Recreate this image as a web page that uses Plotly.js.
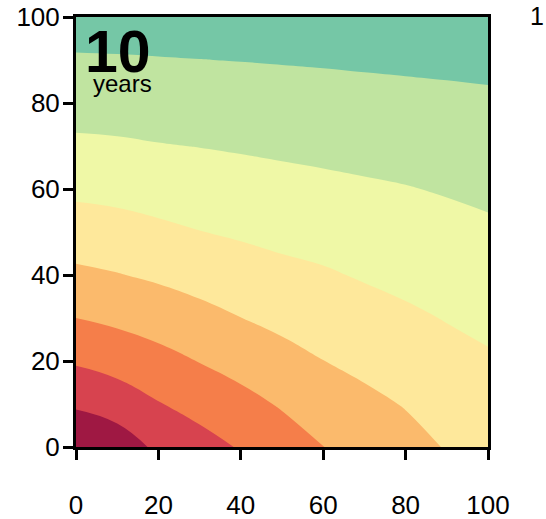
<!DOCTYPE html>
<html>
<head>
<meta charset="utf-8">
<script src="https://cdn.plot.ly/plotly-3.0.1.min.js"></script>
<style>
  html, body { margin: 0; padding: 0; background: #ffffff; }
  #chart { width: 546px; height: 519px; }
</style>
</head>
<body>
<div id="chart"></div>
<script>
// Grid coordinates (percent scale on both axes)
const xGrid = [0, 10, 20, 30, 40, 50, 60, 70, 80, 90, 100];
const yGrid = [0, 10, 20, 30, 40, 50, 60, 70, 80, 90, 100];

// Field values on the grid: one row per y, one column per x
const zRow0   = [0.09, 0.44, 1.20, 1.62, 2.08, 2.53, 2.99, 3.35, 3.70, 4.05, 4.37];
const zRow10  = [1.13, 1.46, 1.95, 2.35, 2.70, 3.09, 3.50, 3.79, 4.05, 4.38, 4.64];
const zRow20  = [2.11, 2.38, 2.70, 3.03, 3.35, 3.68, 3.99, 4.22, 4.45, 4.71, 4.90];
const zRow30  = [3.00, 3.20, 3.43, 3.71, 3.99, 4.24, 4.45, 4.65, 4.85, 5.04, 5.20];
const zRow40  = [3.81, 3.96, 4.15, 4.36, 4.56, 4.76, 4.90, 5.08, 5.23, 5.38, 5.53];
const zRow50  = [4.53, 4.64, 4.81, 4.98, 5.12, 5.25, 5.35, 5.48, 5.60, 5.72, 5.85];
const zRow60  = [5.20, 5.28, 5.40, 5.51, 5.61, 5.71, 5.79, 5.88, 5.96, 6.07, 6.18];
const zRow70  = [5.83, 5.88, 5.96, 6.02, 6.09, 6.16, 6.23, 6.29, 6.36, 6.44, 6.52];
const zRow80  = [6.38, 6.41, 6.46, 6.51, 6.56, 6.61, 6.66, 6.70, 6.75, 6.80, 6.85];
const zRow90  = [6.91, 6.93, 6.96, 6.99, 7.02, 7.05, 7.08, 7.12, 7.15, 7.18, 7.21];
const zRow100 = [7.42, 7.44, 7.44, 7.46, 7.48, 7.49, 7.50, 7.53, 7.55, 7.57, 7.58];

// Contour band colours, low to high
const bandColors = ['#9f1843', '#d7434f', '#f57e4a', '#fbba6c',
                    '#fee89b', '#eff8a6', '#c0e4a0', '#75c7a6'];

const tickVals = [0, 20, 40, 60, 80, 100];
const tickText = ['0', '20', '40', '60', '80', '100'];

const zField = [zRow0, zRow10, zRow20, zRow30, zRow40, zRow50,
                zRow60, zRow70, zRow80, zRow90, zRow100];

// One colour per band: filled bands sample the scale at evenly spaced stops
const colorscale = bandColors.map((c, i) => [i / (bandColors.length - 1), c]);

const font = 'Arial, "Liberation Sans", sans-serif';

const trace = {
  type: 'contour',
  x: xGrid,
  y: yGrid,
  z: zField,
  autocontour: false,
  contours: { start: 1, end: 7, size: 1, coloring: 'fill', showlines: false },
  line: { width: 0, smoothing: 1.3 },
  colorscale: colorscale,
  showscale: false,
  hoverinfo: 'skip'
};

const axisBase = {
  range: [0, 100],
  showgrid: false,
  zeroline: false,
  showline: true,
  linecolor: '#000000',
  linewidth: 3,
  mirror: true,
  ticks: 'outside',
  ticklen: 10,
  tickwidth: 3,
  tickcolor: '#000000',
  tickvals: tickVals,
  ticktext: tickText,
  tickfont: { family: font, size: 26, color: '#000000' }
};

const layout = {
  width: 546,
  height: 519,
  margin: { l: 76, r: 58, t: 17, b: 72 },
  paper_bgcolor: '#ffffff',
  plot_bgcolor: '#ffffff',
  showlegend: false,
  xaxis: Object.assign({}, axisBase, { ticklabelstandoff: 23 }),
  yaxis: Object.assign({}, axisBase, { ticklabelstandoff: -2 }),
  annotations: [
    {
      xref: 'x', yref: 'y', x: 10.2, y: 91.9,
      text: '<b>10</b>', showarrow: false,
      xanchor: 'center', yanchor: 'middle',
      font: { family: font, size: 59, color: '#000000' }
    },
    {
      xref: 'x', yref: 'y', x: 11.3, y: 84.5,
      text: 'years', showarrow: false,
      xanchor: 'center', yanchor: 'middle',
      font: { family: font, size: 24, color: '#000000' }
    },
    {
      xref: 'paper', yref: 'paper', x: 1.1405, y: 1.002,
      text: '1', showarrow: false,
      xanchor: 'right', yanchor: 'middle',
      font: { family: font, size: 25, color: '#000000' }
    }
  ]
};

Plotly.newPlot('chart', [trace], layout, { staticPlot: true, displayModeBar: false });
</script>
</body>
</html>
